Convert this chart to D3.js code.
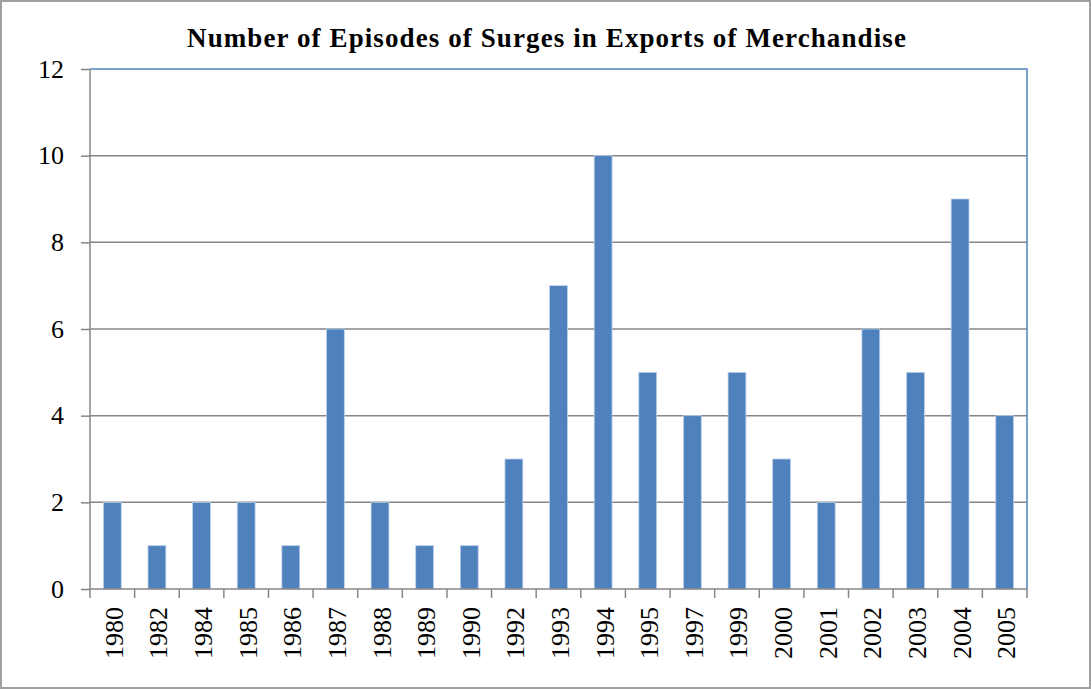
<!DOCTYPE html>
<html><head><meta charset="utf-8">
<script src="https://cdn.jsdelivr.net/npm/d3@7"></script>
<style>body{margin:0;background:#fff;}svg{display:block;}</style>
</head><body>
<script>
const years = ["1980","1982","1984","1985","1986","1987","1988","1989","1990","1992","1993","1994","1995","1997","1999","2000","2001","2002","2003","2004","2005"];
const episodes = [2,1,2,2,1,6,2,1,1,3,7,10,5,4,5,3,2,6,5,9,4];
const yTicks = [0,2,4,6,8,10,12];
const title = "Number of Episodes of Surges in Exports of Merchandise";

const W = 1091, H = 689;
const m = {left: 90, right: 1027, top: 69, bottom: 589};
const svg = d3.select("body").append("svg").attr("width", W).attr("height", H);
svg.append("rect").attr("x",1).attr("y",1).attr("width",W-2).attr("height",H-2)
  .attr("fill","#fff").attr("stroke","#a0a0a0").attr("stroke-width",2);

const x = d3.scaleBand().domain(years).range([m.left, m.right]).paddingInner(0.6).paddingOuter(0.3);
const xb = d3.scaleBand().domain(years).range([m.left, m.right]);
const y = d3.scaleLinear().domain([0,12]).range([m.bottom, m.top]);
const font = "Liberation Serif, Times New Roman, serif";

// gridlines
svg.append("g").selectAll("line").data(yTicks.filter(d=>d>0 && d<12)).join("line")
  .attr("x1", m.left).attr("x2", m.right).attr("y1", d=>y(d)).attr("y2", d=>y(d))
  .attr("stroke","#868686").attr("stroke-width",1.5);

// plot border (top/right blue)
svg.append("path").attr("d",`M${m.left},${m.top}H${m.right}V${m.bottom}`)
  .attr("fill","none").attr("stroke","#4F81BD").attr("stroke-width",1.5);

// bars
svg.append("g").selectAll("rect").data(years).join("rect")
  .attr("x", (d)=>x(d)).attr("width", x.bandwidth())
  .attr("y", (d,i)=>y(episodes[i])).attr("height", (d,i)=>y(0)-y(episodes[i]))
  .attr("fill","#4F81BD").attr("stroke","#bcd0ea").attr("stroke-width",0.8);

// y axis
const ya = svg.append("g").attr("transform",`translate(${m.left},0)`)
  .call(d3.axisLeft(y).tickValues(yTicks).tickSize(9).tickPadding(17));
ya.select(".domain").attr("stroke","#868686").attr("stroke-width",1.5).attr("d",`M0,${m.top}V${m.bottom}`);
ya.selectAll(".tick line").attr("stroke","#868686").attr("stroke-width",1.5);
ya.selectAll(".tick text").attr("font-family",font).attr("font-size",26).attr("fill","#000");

// x axis
const xa = svg.append("g").attr("transform",`translate(0,${m.bottom})`)
  .call(d3.axisBottom(xb).tickSize(0).tickFormat(""));
xa.select(".domain").attr("stroke","#868686").attr("stroke-width",1.5).attr("d",`M${m.left},0H${m.right}`);
const bounds = years.map(d=>xb(d)).concat([m.right]);
xa.selectAll(".bt").data(bounds).join("line").attr("class","bt")
  .attr("x1",d=>d).attr("x2",d=>d).attr("y1",0).attr("y2",9)
  .attr("stroke","#868686").attr("stroke-width",1.5);
svg.append("g").selectAll("text").data(years).join("text")
  .attr("transform", d=>`translate(${x(d)+x.bandwidth()/2+2},${m.bottom+18}) rotate(-90)`)
  .attr("text-anchor","end").attr("dominant-baseline","central")
  .attr("font-family",font).attr("font-size",26).attr("fill","#000").text(d=>d);

// title
svg.append("text").attr("x", 547).attr("y", 47).attr("text-anchor","middle")
  .attr("font-family",font).attr("font-weight","bold").attr("font-size",27)
  .attr("letter-spacing",1.1).attr("fill","#000").text(title);
</script>
</body></html>
